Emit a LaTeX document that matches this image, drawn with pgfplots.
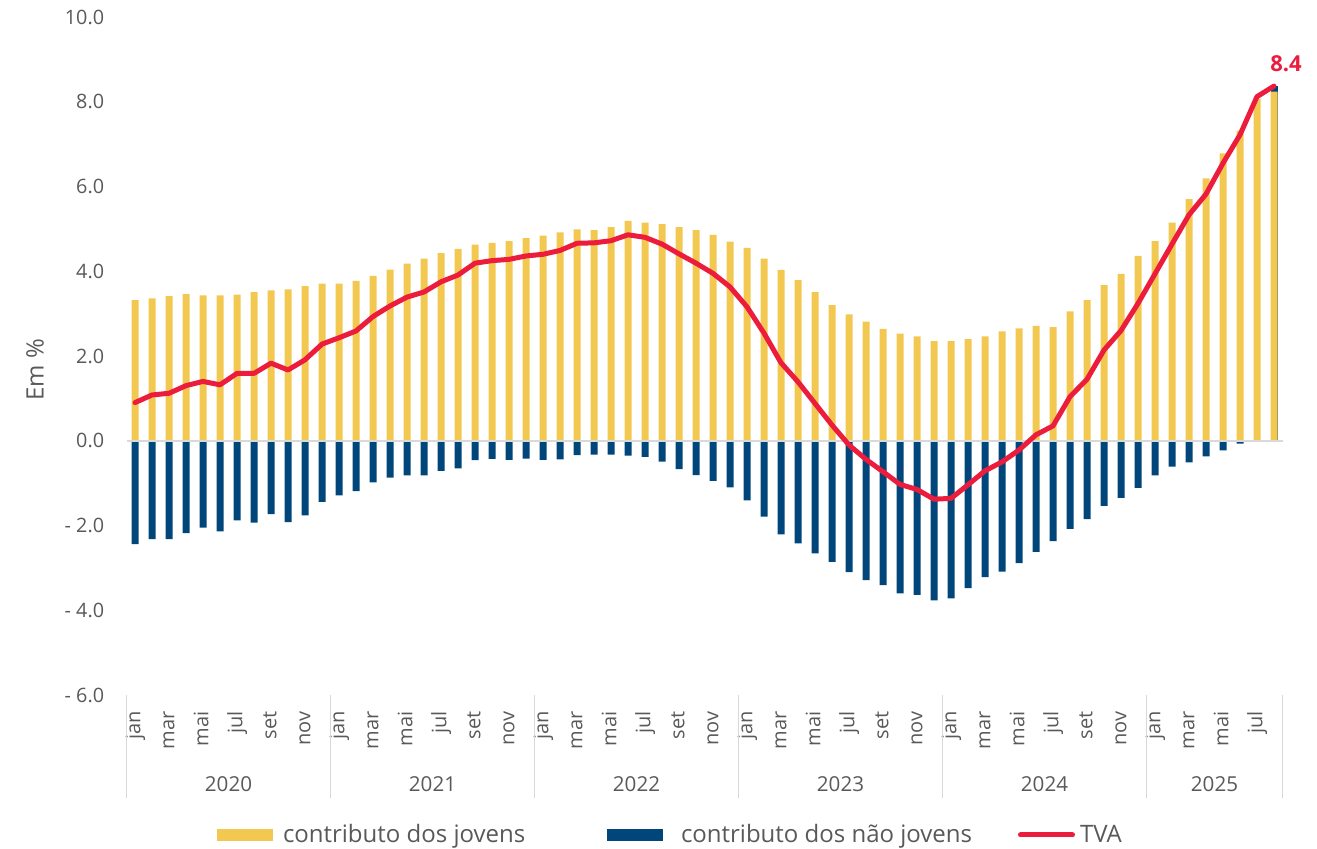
\documentclass[border=0pt]{standalone}
\usepackage{fontspec}
\setmainfont{Open Sans}
\usepackage{pgfplots}
\pgfplotsset{compat=1.18}
\usepackage{pgfplotstable}
\definecolor{cYel}{HTML}{F2C851}
\definecolor{cBlu}{HTML}{00467A}
\definecolor{cRed}{HTML}{EC1C3D}
\definecolor{cTxt}{HTML}{595959}
\definecolor{cGrid}{HTML}{D9D9D9}

\pgfplotstableread{
i yov nyov tva
0 3.32 -2.44 0.90
1 3.36 -2.32 1.08
2 3.41 -2.32 1.12
3 3.46 -2.18 1.30
4 3.43 -2.05 1.40
5 3.43 -2.14 1.32
6 3.45 -1.88 1.59
7 3.51 -1.93 1.59
8 3.55 -1.73 1.83
9 3.57 -1.92 1.67
10 3.65 -1.76 1.91
11 3.71 -1.44 2.28
12 3.71 -1.29 2.43
13 3.77 -1.19 2.59
14 3.89 -0.98 2.93
15 4.04 -0.87 3.18
16 4.18 -0.82 3.39
17 4.30 -0.82 3.51
18 4.43 -0.71 3.75
19 4.53 -0.65 3.91
20 4.63 -0.46 4.19
21 4.67 -0.43 4.25
22 4.71 -0.45 4.28
23 4.78 -0.42 4.36
24 4.84 -0.45 4.40
25 4.92 -0.44 4.49
26 4.99 -0.34 4.66
27 4.97 -0.33 4.67
28 5.04 -0.33 4.72
29 5.19 -0.35 4.86
30 5.15 -0.38 4.80
31 5.11 -0.49 4.64
32 5.04 -0.67 4.41
33 4.97 -0.81 4.19
34 4.86 -0.95 3.95
35 4.70 -1.10 3.63
36 4.55 -1.41 3.16
37 4.30 -1.79 2.54
38 4.03 -2.21 1.84
39 3.79 -2.42 1.39
40 3.51 -2.66 0.88
41 3.20 -2.86 0.37
42 2.98 -3.10 -0.10
43 2.81 -3.29 -0.44
44 2.64 -3.41 -0.73
45 2.53 -3.60 -1.03
46 2.46 -3.64 -1.15
47 2.35 -3.77 -1.38
48 2.35 -3.72 -1.36
49 2.40 -3.48 -1.04
50 2.46 -3.22 -0.71
51 2.58 -3.09 -0.50
52 2.65 -2.89 -0.22
53 2.71 -2.62 0.14
54 2.68 -2.37 0.35
55 3.05 -2.08 1.04
56 3.32 -1.85 1.45
57 3.67 -1.54 2.14
58 3.94 -1.35 2.60
59 4.36 -1.11 3.24
60 4.71 -0.82 3.94
61 5.15 -0.61 4.64
62 5.70 -0.51 5.33
63 6.19 -0.37 5.82
64 6.78 -0.23 6.55
65 7.32 -0.07 7.22
66 8.06 0.00 8.12
67 8.24 0.00 8.37
}\datatable

\begin{document}
\begin{tikzpicture}[x=1pt,y=1pt]
\useasboundingbox (0,0) rectangle (658.5,424.5);
\begin{axis}[
  at={(63.25pt,77pt)}, anchor=south west,
  scale only axis, width=578pt, height=339pt,
  xmin=-0.5, xmax=67.5, ymin=-6, ymax=10,
  clip=false,
  axis line style={draw=none},
  tick style={draw=none},
  major tick length=0pt,
  ytick={-6,-4,...,10},
  yticklabels={- 6.0,- 4.0,- 2.0,0.0,2.0,4.0,6.0,8.0,10.0},
  yticklabel style={anchor=east, inner sep=0pt, xshift=-11pt,
    font=\fontsize{9.9}{12}\selectfont, text=cTxt},
  xtick={0,2,...,66},
  xticklabels={jan,mar,mai,jul,set,nov,jan,mar,mai,jul,set,nov,jan,mar,mai,jul,set,nov,jan,mar,mai,jul,set,nov,jan,mar,mai,jul,set,nov,jan,mar,mai,jul},
  xticklabel style={rotate=90, anchor=east, inner sep=0pt,
    text height=0.7em, text depth=0.16em, xshift=-8pt,
    font=\fontsize{10}{12}\selectfont, text=cTxt},
  legend columns=3,
  legend cell align=left,
  legend style={at={(axis description cs:0.0783,-0.2065)}, anchor=west,
    draw=none, fill=none, inner sep=0pt, outer sep=0pt,
    column sep=0pt, row sep=0pt,
    nodes={inner sep=0pt, outer sep=0pt, text=cTxt},
    font=\fontsize{12}{14}\selectfont},
]
% cap of the last bar: young + non-young contribution (8.24 + 0.12)
\addplot[ybar, bar width=3.5pt, bar shift=0pt, fill=cBlu, draw=none, forget plot]
  coordinates {(67,8.36)};
\addplot[ybar, bar width=3.5pt, bar shift=0pt, fill=cYel, draw=none,
  legend image code/.code={\fill[cYel] (0pt,-2.9pt) rectangle (28pt,2.9pt);}]
  table[x=i,y=yov]{\datatable};
\addlegendentry{\hspace{5pt}\makebox[162pt][l]{contributo dos jovens}}
\addplot[ybar, bar width=3.5pt, bar shift=0pt, fill=cBlu, draw=none,
  legend image code/.code={\fill[cBlu] (0pt,-2.9pt) rectangle (28pt,2.9pt);}]
  table[x=i,y=nyov]{\datatable};
\addlegendentry{\hspace{9pt}\makebox[168.5pt][l]{contributo dos não jovens}}
\draw[cGrid, line width=1pt] (axis cs:-0.5,0) -- (axis cs:67.5,0);
\addplot[cRed, line width=2.5pt, line join=round, line cap=round, mark=none,
  legend image code/.code={\draw[cRed, line width=2.5pt, line cap=round] (1pt,0pt) -- (27pt,0pt);}]
  table[x=i,y=tva]{\datatable};
\addlegendentry{\hspace{2.5pt}TVA}
\pgfplotsinvokeforeach{-0.5,11.5,23.5,35.5,47.5,59.5,67.5}{
  \draw[cGrid, line width=0.8pt] (axis cs:#1,-6) -- ++(0pt,-51.5pt);
}
\node[text=cTxt, font=\fontsize{10.3}{12}\selectfont] at (axis cs:5.5,-6) [yshift=-44.5pt] {2020};
\node[text=cTxt, font=\fontsize{10.3}{12}\selectfont] at (axis cs:17.5,-6) [yshift=-44.5pt] {2021};
\node[text=cTxt, font=\fontsize{10.3}{12}\selectfont] at (axis cs:29.5,-6) [yshift=-44.5pt] {2022};
\node[text=cTxt, font=\fontsize{10.3}{12}\selectfont] at (axis cs:41.5,-6) [yshift=-44.5pt] {2023};
\node[text=cTxt, font=\fontsize{10.3}{12}\selectfont] at (axis cs:53.5,-6) [yshift=-44.5pt] {2024};
\node[text=cTxt, font=\fontsize{10.3}{12}\selectfont] at (axis cs:63.5,-6) [yshift=-44.5pt] {2025};
\node[text=cRed, font=\fontsize{11}{13}\bfseries\selectfont] at (axis cs:67,8.37) [xshift=6pt, yshift=11pt] {8.4};
\end{axis}
\node[rotate=90, text=cTxt, font=\fontsize{12}{14}\selectfont] at (17.5,239.5) {Em \%};
\end{tikzpicture}
\end{document}
